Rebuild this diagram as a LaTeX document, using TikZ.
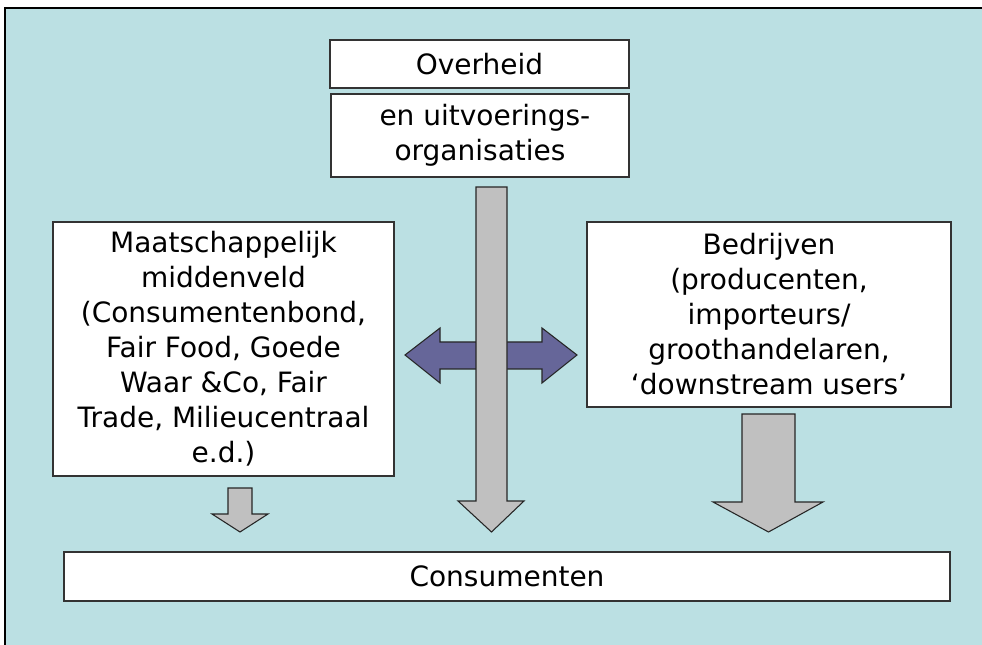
\documentclass[tikz,border=0pt]{standalone}
\usepackage{fontspec}
\setmainfont{DejaVu Sans}
\definecolor{bgblue}{HTML}{BBE0E3}
\definecolor{arrgrey}{HTML}{C0C0C0}
\definecolor{arrpurple}{HTML}{666699}
\definecolor{edge}{HTML}{333333}
\begin{document}
\begin{tikzpicture}[x=0.75pt,y=-0.75pt,
  box/.style={draw=edge,line width=1.1pt,fill=white,inner sep=0pt,align=center,
    font=\fontsize{21}{26.25}\selectfont},
  blockarrow/.style={draw=black!85,line width=0.8pt,fill=arrgrey,line join=miter},
  purplearrow/.style={draw=black!85,line width=0.8pt,fill=arrpurple,line join=miter}]
\useasboundingbox (0,0) rectangle (982,645);
\clip (0,0) rectangle (982,645);
\fill[white] (0,0) rectangle (982,645);
\filldraw[fill=bgblue,draw=black,line width=1.2pt] (5,8) rectangle (995,660);

% boxes
\node[box,minimum width=224.25pt,minimum height=36pt] (ov) at (479.5,64) {Overheid};
\node[box,minimum width=223.5pt,minimum height=62.25pt] (uit) at (480,135.5)
  {\hspace*{0.35em}en uitvoerings-\\organisaties};
\node[box,minimum width=255.75pt,minimum height=190.5pt] (mid) at (223.5,349)
  {Maatschappelijk\\middenveld\\(Consumentenbond,\\Fair Food, Goede\\Waar \&Co, Fair\\Trade, Milieucentraal\\e.d.)};
\node[box,minimum width=273pt,minimum height=138.75pt] (bed) at (769,314.5)
  {Bedrijven\\(producenten,\\importeurs/\\groothandelaren,\\`downstream users'};
\node[box,minimum width=664.5pt,minimum height=36.75pt] (con) at (507,576.5) {Consumenten};

% purple double arrow (behind the grey shaft)
\draw[purplearrow] (405,355) -- (440,328) -- (440,342) -- (542,342) -- (542,328)
  -- (577,355) -- (542,383) -- (542,369) -- (440,369) -- (440,383) -- cycle;

% grey block arrows
\draw[blockarrow] (476,187) -- (507,187) -- (507,501) -- (524,501) -- (491.5,532)
  -- (458,501) -- (476,501) -- cycle;
\draw[blockarrow] (228,488) -- (252,488) -- (252,514) -- (268,514) -- (240,532)
  -- (212,514) -- (228,514) -- cycle;
\draw[blockarrow] (742,414) -- (795,414) -- (795,502) -- (823,502) -- (768.5,532)
  -- (713,502) -- (742,502) -- cycle;
\end{tikzpicture}
\end{document}
